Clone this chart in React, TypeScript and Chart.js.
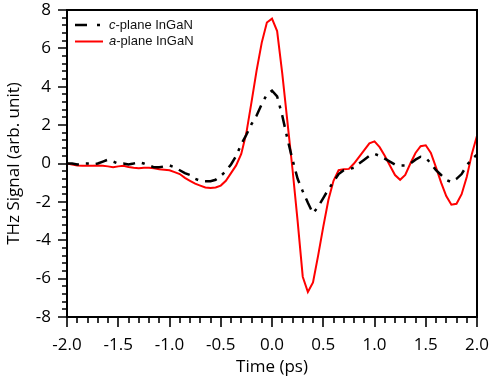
import React, { useEffect, useRef } from 'react';
import { Chart, registerables } from 'chart.js';

Chart.register(...registerables);

// Time axis (ps)
const timePs = [
  -2.0, -1.95, -1.9, -1.85, -1.8, -1.75, -1.7, -1.65, -1.6, -1.55,
  -1.5, -1.45, -1.4, -1.35, -1.3, -1.25, -1.2, -1.15, -1.1, -1.05,
  -1.0, -0.95, -0.9, -0.85, -0.8, -0.75, -0.7, -0.65, -0.6, -0.55,
  -0.5, -0.45, -0.4, -0.35, -0.3, -0.25, -0.2, -0.15, -0.1, -0.05,
  0.0, 0.05, 0.1, 0.15, 0.2, 0.25, 0.3, 0.35, 0.4, 0.45,
  0.5, 0.55, 0.6, 0.65, 0.7, 0.75, 0.8, 0.85, 0.9, 0.95,
  1.0, 1.05, 1.1, 1.15, 1.2, 1.25, 1.3, 1.35, 1.4, 1.45,
  1.5, 1.55, 1.6, 1.65, 1.7, 1.75, 1.8, 1.85, 1.9, 1.95, 2.0,
];

// c-plane InGaN (black dash-dot)
const cPlaneSignal = [
  0.0, 0.0, -0.05, 0.0, 0.0, -0.05, 0.0, 0.1, 0.2, 0.1,
  0.0, 0.0, -0.05, 0.0, 0.07, 0.0, -0.1, -0.2, -0.2, -0.15,
  -0.1, -0.2, -0.35, -0.5, -0.6, -0.8, -0.9, -0.92, -0.92, -0.85,
  -0.65, -0.4, -0.05, 0.4, 1.0, 1.5, 2.05, 2.5, 3.1, 3.6,
  3.8, 3.5, 2.5, 1.3, 0.2, -0.8, -1.45, -2.05, -2.6, -2.25,
  -1.8, -1.35, -0.95, -0.55, -0.35, -0.3, -0.22, 0.0, 0.2, 0.4,
  0.5, 0.4, 0.25, 0.1, -0.05, -0.1, -0.1, 0.0, 0.2, 0.35,
  0.3, 0.0, -0.35, -0.6, -0.85, -0.97, -0.8, -0.55, -0.1, 0.25, 0.45,
];

// a-plane InGaN (red solid)
const aPlaneSignal = [
  0.0, -0.05, -0.1, -0.12, -0.12, -0.12, -0.1, -0.12, -0.15, -0.2,
  -0.15, -0.12, -0.18, -0.22, -0.25, -0.22, -0.22, -0.25, -0.3, -0.32,
  -0.35, -0.45, -0.55, -0.75, -0.9, -1.05, -1.15, -1.25, -1.28, -1.25,
  -1.15, -0.9, -0.5, -0.1, 0.5, 1.6, 3.2, 4.85, 6.3, 7.35,
  7.55, 6.9, 4.7, 2.2, -0.3, -3.0, -5.9, -6.7, -6.2, -4.8,
  -3.3, -1.9, -0.9, -0.35, -0.3, -0.28, 0.0, 0.35, 0.7, 1.05,
  1.15, 0.85, 0.4, -0.1, -0.6, -0.85, -0.6, 0.0, 0.55, 0.9,
  0.95, 0.55, -0.2, -1.0, -1.7, -2.15, -2.1, -1.6, -0.7, 0.5, 1.45,
];

const seriesLabels = ['c-plane InGaN', 'a-plane InGaN'];
const xAxisTitle = 'Time (ps)';
const yAxisTitle = 'THz Signal (arb. unit)';

const axisFont = '"Open Sans", "DejaVu Sans", sans-serif';
const legendFont = '"Liberation Sans", Arial, sans-serif';

const frameTicksLegend = {
  id: 'frameTicksLegend',
  afterDatasetsDraw(chart: any) {
    const { ctx, chartArea: a, scales } = chart;
    const xs = scales.x;
    const ys = scales.y;
    ctx.save();
    ctx.strokeStyle = '#000';
    ctx.lineWidth = 2;
    ctx.strokeRect(a.left, a.top, a.right - a.left, a.bottom - a.top);

    ctx.lineWidth = 1.6;
    ctx.beginPath();
    for (let i = 0; i <= 40; i++) {
      const v = xs.min + i * 0.1;
      const px = Math.round(xs.getPixelForValue(v));
      const len = i % 5 === 0 ? 10 : 6;
      ctx.moveTo(px, a.bottom);
      ctx.lineTo(px, a.bottom + len);
    }
    for (let i = 0; i <= 40; i++) {
      const v = ys.min + i * 0.4;
      const py = Math.round(ys.getPixelForValue(v));
      const len = i % 5 === 0 ? 9 : 5;
      ctx.moveTo(a.left, py);
      ctx.lineTo(a.left - len, py);
    }
    ctx.stroke();

    // legend
    const ds = chart.data.datasets;
    const rows = [25, 41.5];
    const italicPart = ['c', 'a'];
    ds.forEach((d: any, i: number) => {
      const y = rows[i];
      ctx.beginPath();
      ctx.strokeStyle = d.borderColor;
      ctx.lineWidth = d.borderWidth;
      ctx.setLineDash(i === 0 ? [12, 10, 3, 10] : []);
      ctx.moveTo(75, y);
      ctx.lineTo(103, y);
      ctx.stroke();
      ctx.setLineDash([]);
      ctx.fillStyle = '#111';
      ctx.textBaseline = 'middle';
      ctx.textAlign = 'left';
      ctx.font = `italic 13px ${legendFont}`;
      const it = italicPart[i];
      ctx.fillText(it, 109, y);
      const w = ctx.measureText(it).width;
      ctx.font = `13px ${legendFont}`;
      ctx.fillText(d.label.slice(it.length), 109 + w, y);
    });
    ctx.restore();
  },
};

export default function App() {
  const ref = useRef<HTMLCanvasElement | null>(null);

  useEffect(() => {
    if (!ref.current) return;
    const chart = new Chart(ref.current, {
      type: 'line',
      data: {
        labels: timePs,
        datasets: [
          {
            label: seriesLabels[0],
            data: timePs.map((t, i) => ({ x: t, y: cPlaneSignal[i] })),
            borderColor: '#000',
            borderWidth: 2.5,
            borderDash: [12, 7, 3, 7],
            pointRadius: 0,
            tension: 0,
            fill: false,
          },
          {
            label: seriesLabels[1],
            data: timePs.map((t, i) => ({ x: t, y: aPlaneSignal[i] })),
            borderColor: '#ff0000',
            borderWidth: 2,
            pointRadius: 0,
            tension: 0,
            fill: false,
          },
        ],
      },
      options: {
        responsive: false,
        animation: false,
        layout: { padding: { top: 10, right: 12, left: 0, bottom: 0 } },
        plugins: {
          legend: { display: false },
          tooltip: { enabled: false },
        },
        scales: {
          x: {
            type: 'linear',
            min: -2,
            max: 2,
            afterFit: (s: any) => {
              s.height = 65;
              s.paddingLeft = 0;
              s.paddingRight = 0;
            },
            grid: { display: false, drawTicks: false },
            border: { display: false },
            ticks: {
              stepSize: 0.5,
              padding: 18,
              color: '#000',
              font: { family: axisFont, size: 17 },
              maxRotation: 0,
              autoSkip: false,
              callback: (v: any) => Number(v).toFixed(1),
            },
            title: {
              display: true,
              text: xAxisTitle,
              color: '#000',
              font: { family: axisFont, size: 17 },
              padding: { top: 0, bottom: 5 },
            },
          },
          y: {
            type: 'linear',
            min: -8,
            max: 8,
            afterFit: (s: any) => {
              s.width = 67;
              s.paddingTop = 0;
              s.paddingBottom = 0;
            },
            grid: { display: false, drawTicks: false },
            border: { display: false },
            ticks: {
              stepSize: 2,
              padding: 16,
              color: '#000',
              font: { family: axisFont, size: 17 },
              autoSkip: false,
            },
            title: {
              display: true,
              text: yAxisTitle,
              color: '#000',
              font: { family: axisFont, size: 17 },
              padding: { top: 4, bottom: 0 },
            },
          },
        },
      },
      plugins: [frameTicksLegend],
    });
    return () => chart.destroy();
  }, []);

  return (
    <div style={{ position: 'absolute', left: 0, top: 0, width: 489, height: 382, background: '#fff' }}>
      <canvas ref={ref} width={489} height={382} style={{ display: 'block' }} />
    </div>
  );
}
